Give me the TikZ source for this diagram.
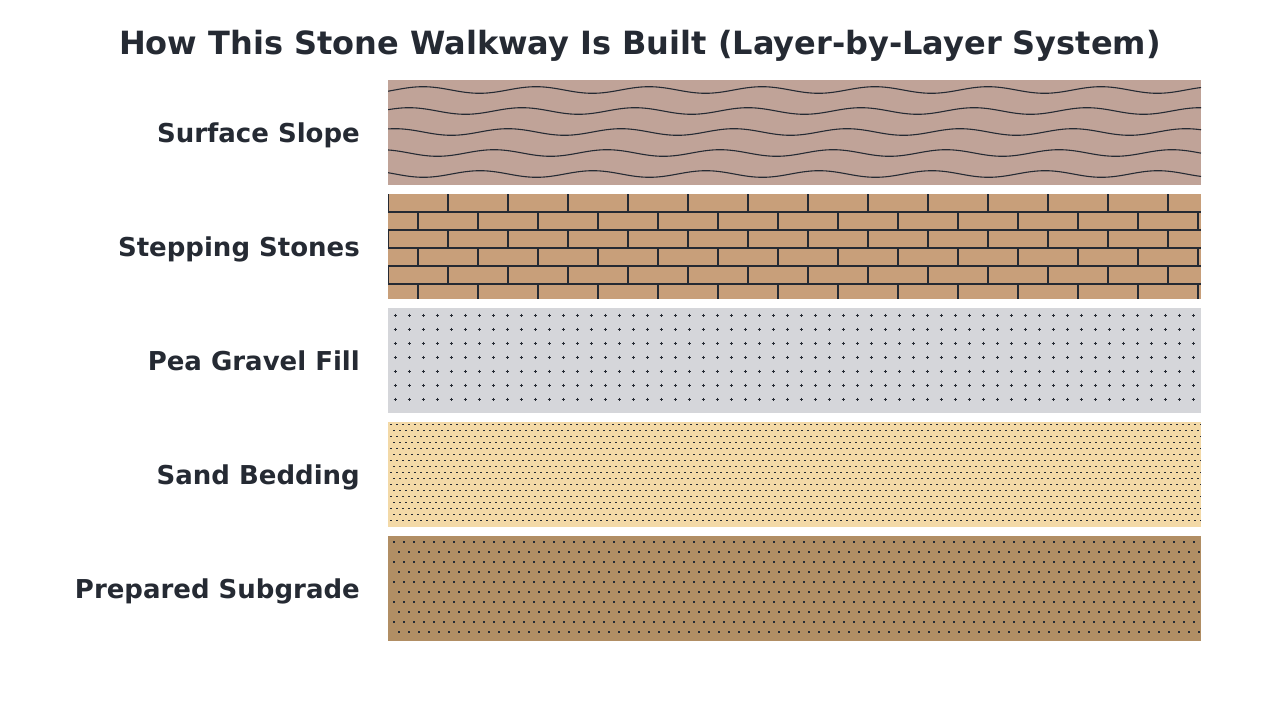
\documentclass[tikz,border=0pt]{standalone}
\usepackage{fontspec}
\setmainfont{DejaVu Sans}
\definecolor{ink}{HTML}{252A33}
\definecolor{slopecol}{HTML}{C0A398}
\definecolor{stonecol}{HTML}{C89F7A}
\definecolor{gravelcol}{HTML}{D5D6DA}
\definecolor{sandcol}{HTML}{F3D9A7}
\definecolor{gradecol}{HTML}{B18E64}
\begin{document}
\begin{tikzpicture}[x=1pt,y=-1pt,
		lbl/.style={anchor=base east,inner sep=0pt,text=ink,font=\bfseries\fontsize{26}{31}\selectfont},
		lay/.style={ink,line width=1pt}]
			\useasboundingbox (0,0) rectangle (1280,720);
			\node[anchor=base,inner sep=0pt,text=ink,font=\bfseries\fontsize{32}{38}\selectfont] (title) at (640,54) {How This Stone Walkway Is Built (Layer-by-Layer System)};
			% lớp 1: mặt dốc
			\fill[slopecol] (388,80) rectangle (1201,185);
			\begin{scope}
				\clip (388,80) rectangle (1201,185);
				\foreach \i in {0,...,4}
					\draw[lay,line width=1.1pt,domain=388:1201,samples=220] plot (\x,{90+21*\i-3.3*cos(3.1858*(\x-423+14*\i))});
			\end{scope}
			\node[lbl] (slope) at (360,142) {Surface Slope};
			% lớp 2: đá lát
			\fill[stonecol] (388,194) rectangle (1201,299);
			\begin{scope}
				\clip (388,194) rectangle (1201,299);
				\foreach \y in {212,230,...,284}
					\draw[lay,line width=1.2pt] (388,\y)--(1201,\y);
				\foreach \r in {0,...,5} {
					\pgfmathsetmacro\yt{194+18*\r}
					\pgfmathsetmacro\yb{min(212+18*\r,299)}
					\pgfmathsetmacro\xs{388+30*mod(\r,2)}
					\foreach \k in {0,...,13}
						\draw[lay,line width=1.2pt] ({\xs+60*\k},\yt)--({\xs+60*\k},\yb);
				}
			\end{scope}
			\node[lbl] (stones) at (360,256) {Stepping Stones};
			% lớp 3: sỏi
			\fill[gravelcol] (388,308) rectangle (1201,413);
			\foreach \i in {0,...,57}
				\foreach \j in {0,...,6}
					\draw[lay,line width=1pt] ({393.5+14*\i},{315+14*\j})--+(3,0) ({395+14*\i},{313.5+14*\j})--+(0,3);
			\node[lbl] (gravel) at (360,370) {Pea Gravel Fill};
			% lớp 4: cát
			\fill[sandcol] (388,422) rectangle (1201,527);
			\foreach \j in {0,...,16}
				\draw[lay,dash pattern=on 2pt off 4pt] ({390+3*mod(\j,2)},{424+6*\j})--(1201,{424+6*\j});
			\node[lbl] (sand) at (360,484) {Sand Bedding};
			% lớp 5: nền
			\fill[gradecol] (388,536) rectangle (1201,641);
			\foreach \j in {0,...,9}
				\draw[lay,line width=2pt,dash pattern=on 2pt off 8pt] ({393+5*mod(\j,2)},{542+10*\j})--(1201,{542+10*\j});
			\node[lbl] (grade) at (360,598) {Prepared Subgrade};
	\end{tikzpicture}
\end{document}
